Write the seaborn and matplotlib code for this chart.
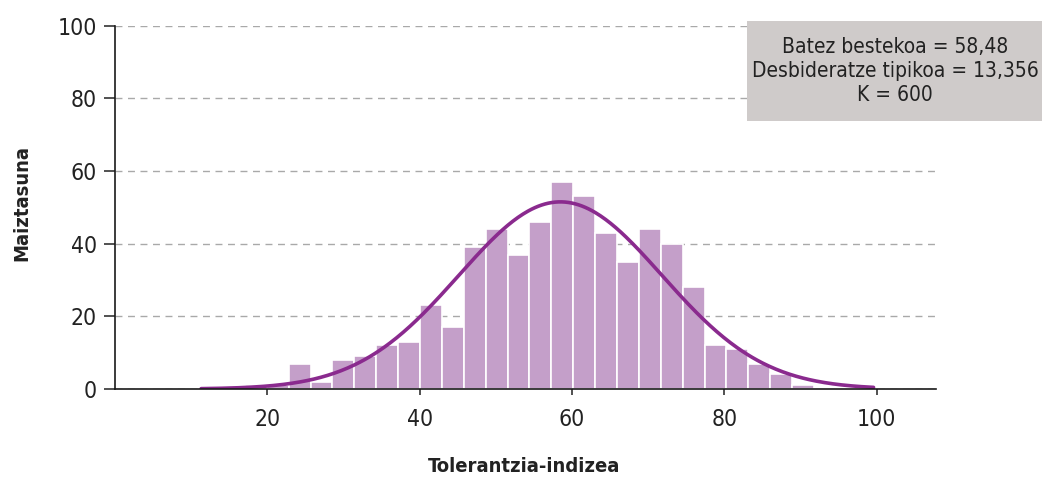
import numpy as np
import pandas as pd
import matplotlib
matplotlib.use("Agg")
import matplotlib.pyplot as plt
import seaborn as sns
from matplotlib import font_manager as fm
from matplotlib.patches import Rectangle

# Frequency table of the tolerance index (600 cases)
bin_start = 11.31
bin_width = 2.874
counts = [0, 0, 1, 1, 7, 2, 8, 9, 12, 13, 23, 17, 39, 44, 37, 46,
          57, 53, 43, 35, 44, 40, 28, 12, 11, 7, 4, 1, 0, 0, 0]
data_min = 11.31
data_max = 99.6

# Summary statistics shown in the box
mean_value = 58.48
std_value = 13.356
n_total = 600

x_ticks = [20, 40, 60, 80, 100]
y_ticks = [0, 20, 40, 60, 80, 100]
x_label = "Tolerantzia-indizea"
y_label = "Maiztasuna"
stats_lines = [
    "Batez bestekoa = 58,48",
    "Desbideratze tipikoa = 13,356",
    "K = 600",
]

BAR_COLOR = "#c49fc9"
CURVE_COLOR = "#8a2a8e"
GRID_COLOR = "#a9a9a9"
BOX_COLOR = "#cfcbca"
TEXT_COLOR = "#222222"


def condensed_font():
    entries = fm.fontManager.ttflist
    if any(f.name == "Liberation Sans Narrow" for f in entries):
        return "Liberation Sans Narrow", "normal"
    for name in ["DejaVu Sans", "Noto Sans", "Open Sans", "Roboto"]:
        if any(f.name == name and str(f.stretch) in ("condensed", "semi-condensed", "extra-condensed")
               for f in entries):
            return name, "condensed"
    return "DejaVu Sans", "normal"


sns.set_theme(style="white")
family, stretch = condensed_font()
plt.rcParams["font.family"] = [family, "DejaVu Sans"]
plt.rcParams["font.stretch"] = stretch

edges = bin_start + bin_width * np.arange(len(counts) + 1)
centers = (edges[:-1] + edges[1:]) / 2
hist_df = pd.DataFrame({"center": centers, "count": counts})

fig = plt.figure(figsize=(10.42, 4.78), dpi=100)
ax = fig.add_axes([115 / 1042, 1 - 389 / 478, 821 / 1042, 363.3 / 478])

sns.histplot(data=hist_df, x="center", weights="count", bins=list(edges), ax=ax,
             color=BAR_COLOR, alpha=1.0, edgecolor="white", linewidth=1.2)

# Fitted normal curve scaled to counts per bin
xs = np.linspace(data_min, data_max, 400)
pdf = np.exp(-0.5 * ((xs - mean_value) / std_value) ** 2) / (std_value * np.sqrt(2 * np.pi))
curve_df = pd.DataFrame({"x": xs, "y": n_total * bin_width * pdf})
sns.lineplot(data=curve_df, x="x", y="y", ax=ax, color=CURVE_COLOR, linewidth=2.6)

ax.set_xlim(0, 107.8)
ax.set_ylim(0, 100)
ax.set_xticks(x_ticks)
ax.set_yticks(y_ticks)
ax.set_xlabel("")
ax.set_ylabel("")

ax.set_axisbelow(True)
ax.yaxis.grid(True, color=GRID_COLOR, linestyle=(0, (5, 4)), linewidth=1.0)
ax.xaxis.grid(False)

for side in ["top", "right"]:
    ax.spines[side].set_visible(False)
for side in ["left", "bottom"]:
    ax.spines[side].set_color("#1a1a1a")
    ax.spines[side].set_linewidth(1.2)

ax.tick_params(axis="y", which="major", left=True, length=8, width=1.2, pad=5,
               labelsize=16.5, colors="#333333", labelcolor=TEXT_COLOR)
ax.tick_params(axis="x", which="major", bottom=True, length=4.5, width=1.2, pad=9.5,
               labelsize=16.5, colors="#333333", labelcolor=TEXT_COLOR)

fig.text(22 / 1042, 1 - 203 / 478, y_label, rotation=90, ha="center", va="center",
         fontsize=14.5, fontweight="bold", color=TEXT_COLOR)
fig.text(524 / 1042, 1 - 467 / 478, x_label, ha="center", va="center",
         fontsize=14.5, fontweight="bold", color=TEXT_COLOR)

# Statistics box in the upper right corner
fig.patches.append(Rectangle((747 / 1042, 1 - 121 / 478), 295 / 1042, 100 / 478,
                             transform=fig.transFigure, facecolor=BOX_COLOR,
                             edgecolor="none", zorder=3))
fig.text(895 / 1042, 1 - 71 / 478, "\n".join(stats_lines), ha="center", va="center",
         fontsize=15, linespacing=1.27, color=TEXT_COLOR, zorder=4)

fig.savefig("out.png", dpi=100)
